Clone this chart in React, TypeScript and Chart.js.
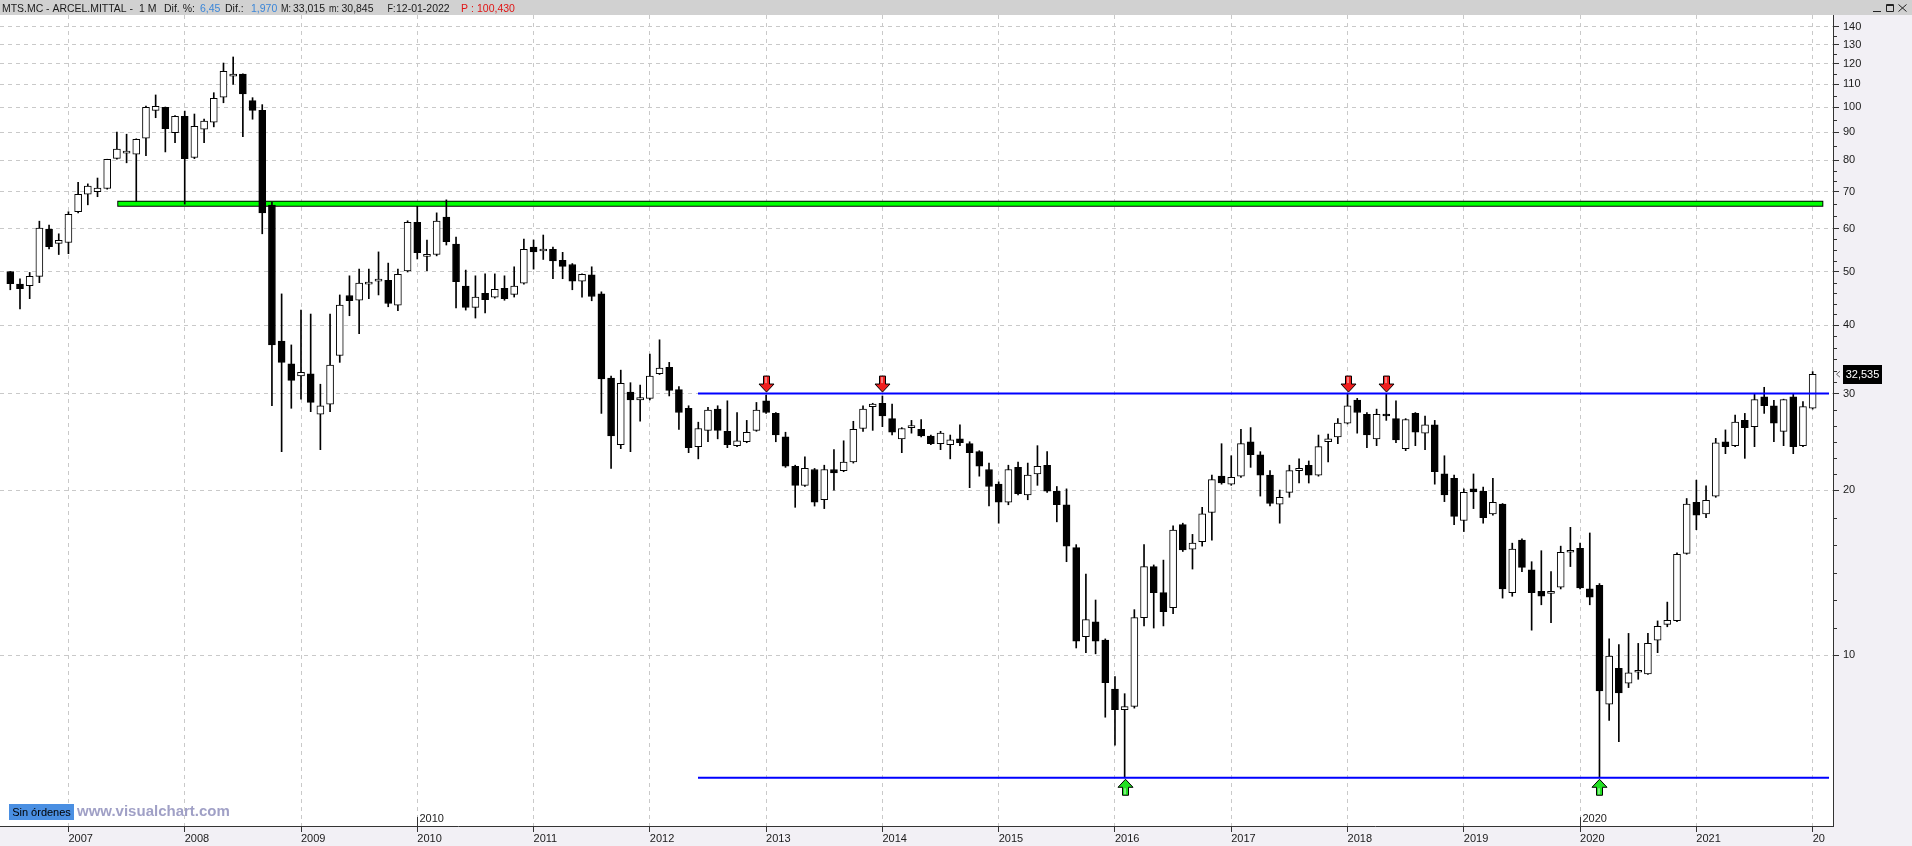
import React, { useEffect, useRef } from 'react';
import { Chart, registerables } from 'chart.js';

Chart.register(...registerables);

const FONT = '"Liberation Sans", Arial, sans-serif';
const PANEL = '#f2f0f5';

// Monthly candles: index 0 = July 2006 ... index 186 = January 2022
const opens = [
  50.1, 47.5, 47.2, 49.1, 59.9, 56.4, 56.6, 64.4, 69.3, 70.1,
  71.0, 80.6, 82.4, 82.0, 87.7, 98.6, 99.9, 89.8, 96.2, 80.9,
  91.1, 93.8, 104.2, 113.8, 114.9, 102.7, 98.6, 66.2, 37.4, 34.0,
  32.3, 32.6, 27.5, 28.7, 35.2, 45.3, 44.4, 47.5, 48.1, 48.3,
  43.5, 50.2, 61.6, 53.4, 53.8, 63.0, 56.2, 47.1, 43.1, 45.7,
  45.0, 46.7, 45.5, 47.7, 55.5, 54.6, 55.0, 52.5, 51.6, 48.1,
  49.4, 45.6, 32.0, 24.2, 30.2, 29.2, 29.4, 32.6, 33.5, 30.5,
  28.2, 24.0, 25.7, 28.1, 25.6, 24.1, 24.5, 25.7, 29.1, 27.6,
  25.0, 22.1, 20.4, 21.8, 19.2, 21.8, 21.7, 22.5, 25.9, 28.4,
  28.8, 27.0, 24.8, 26.0, 25.8, 25.1, 24.3, 24.2, 24.8, 24.3,
  23.5, 21.8, 20.5, 19.0, 22.0, 19.6, 21.4, 22.2, 19.9, 18.8,
  15.7, 10.8, 11.5, 10.65, 8.67, 7.95, 8.06, 11.7, 14.5, 13.0,
  12.2, 17.3, 15.6, 16.1, 18.2, 21.2, 20.5, 21.2, 24.5, 23.2,
  21.3, 18.85, 19.8, 21.7, 22.2, 21.3, 24.5, 25.0, 26.5, 29.2,
  27.5, 24.8, 27.5, 27.0, 23.8, 27.6, 25.4, 26.3, 21.4, 21.0,
  17.6, 20.1, 19.9, 18.1, 18.85, 13.0, 16.2, 14.3, 13.07, 12.95,
  13.3, 15.4, 15.65, 13.2, 13.4, 8.13, 9.46, 8.88, 9.3, 9.24,
  10.64, 11.37, 11.55, 15.33, 19.0, 18.1, 19.5, 24.5, 24.1, 26.8,
  26.1, 29.6, 28.5, 25.6, 29.6, 24.1, 28.2,
];
const highs = [
  50.1, 48.6, 49.9, 61.9, 60.9, 58.7, 64.4, 72.9, 72.4, 74.2,
  80.3, 90.0, 89.2, 87.5, 100.4, 105.2, 100.0, 96.5, 98.3, 97.1,
  95.1, 106.2, 120.3, 123.4, 115.0, 104.0, 101.0, 67.0, 45.6, 36.8,
  42.6, 41.9, 31.2, 41.9, 45.4, 49.2, 50.6, 50.6, 54.4, 51.9,
  50.6, 62.0, 65.9, 57.2, 64.1, 67.7, 57.9, 50.4, 49.2, 49.6,
  49.6, 49.2, 51.1, 57.4, 57.2, 58.4, 55.5, 54.3, 51.8, 49.6,
  51.1, 46.0, 32.3, 33.1, 31.4, 31.1, 35.4, 37.6, 34.2, 30.9,
  28.5, 26.6, 28.3, 28.5, 29.1, 27.7, 26.8, 28.9, 29.8, 27.7,
  25.5, 22.2, 23.0, 21.9, 22.2, 23.7, 24.6, 26.7, 28.5, 28.8,
  29.7, 28.7, 26.0, 26.8, 26.9, 25.2, 25.6, 25.2, 26.3, 24.5,
  23.6, 22.4, 20.7, 22.2, 22.5, 22.4, 24.1, 23.5, 20.3, 20.1,
  15.9, 14.05, 12.6, 10.7, 9.13, 8.5, 12.1, 15.9, 14.6, 14.9,
  17.2, 17.4, 16.6, 18.6, 21.3, 24.3, 23.1, 25.8, 26.0, 23.5,
  21.7, 20.0, 22.2, 22.8, 22.6, 25.2, 25.3, 27.0, 30.0, 29.4,
  27.7, 28.1, 30.0, 29.1, 27.0, 27.7, 27.3, 26.8, 23.1, 21.3,
  20.1, 21.4, 20.25, 21.0, 18.9, 16.0, 16.3, 14.8, 15.5, 14.2,
  15.8, 17.1, 16.0, 16.7, 13.5, 10.7, 10.45, 10.95, 10.5, 10.95,
  11.54, 12.49, 15.37, 19.3, 20.85, 20.35, 24.85, 25.75, 27.4, 27.6,
  29.9, 30.8, 29.15, 29.3, 29.9, 29.0, 32.9,
];
const lows = [
  46.4, 42.8, 44.7, 47.8, 55.1, 53.8, 54.0, 64.1, 66.3, 68.6,
  70.8, 80.3, 79.1, 67.3, 81.5, 95.6, 82.8, 86.1, 66.5, 80.5,
  86.1, 92.0, 101.8, 110.0, 88.3, 95.0, 58.7, 28.5, 23.5, 28.2,
  29.3, 27.8, 23.7, 27.8, 34.2, 41.6, 38.6, 44.7, 45.4, 43.2,
  42.5, 50.0, 52.8, 50.3, 53.5, 56.0, 43.0, 42.6, 41.2, 42.1,
  44.8, 44.4, 45.0, 47.5, 50.6, 52.7, 48.6, 48.6, 46.4, 45.0,
  44.3, 27.6, 21.9, 23.8, 23.5, 26.7, 29.2, 32.5, 29.7, 25.8,
  23.4, 22.8, 24.5, 24.8, 23.9, 24.0, 24.4, 25.6, 27.6, 24.5,
  22.0, 18.6, 20.3, 18.7, 18.5, 20.0, 21.6, 22.4, 25.6, 25.7,
  26.1, 25.2, 23.4, 25.4, 25.0, 24.2, 23.7, 22.8, 24.1, 20.2,
  21.2, 18.7, 17.4, 18.8, 19.6, 19.2, 20.4, 19.8, 17.5, 14.8,
  10.3, 10.1, 10.05, 7.7, 6.85, 5.97, 8.0, 11.3, 11.2, 11.3,
  11.9, 15.45, 14.35, 15.8, 16.2, 20.5, 20.4, 21.1, 22.0, 19.5,
  18.7, 17.4, 19.4, 20.6, 20.6, 21.2, 22.5, 24.3, 26.4, 25.4,
  23.9, 24.1, 26.8, 24.4, 23.6, 24.1, 23.7, 20.5, 19.05, 17.3,
  16.8, 18.5, 17.4, 18.0, 12.7, 12.8, 14.2, 11.1, 12.35, 11.45,
  13.2, 14.5, 13.2, 12.35, 5.97, 7.6, 6.95, 8.72, 9.03, 9.22,
  10.1, 11.26, 11.5, 15.27, 16.93, 17.8, 19.4, 23.3, 24.0, 22.85,
  24.0, 27.6, 24.5, 24.1, 23.3, 24.0, 28.1,
];
const closes = [
  47.6, 46.6, 49.1, 60.1, 55.6, 57.1, 63.7, 69.3, 71.7, 71.1,
  80.3, 83.8, 82.7, 87.3, 99.9, 100.3, 91.3, 96.2, 80.5, 92.2,
  94.3, 103.7, 116.2, 114.9, 105.7, 98.6, 64.1, 36.8, 34.2, 31.7,
  32.8, 28.9, 28.5, 33.8, 43.5, 44.3, 47.7, 47.7, 48.5, 43.8,
  49.5, 61.6, 54.2, 53.8, 61.9, 56.8, 48.0, 43.1, 45.0, 44.5,
  46.5, 44.7, 47.1, 55.0, 54.4, 54.8, 52.4, 51.2, 48.1, 49.5,
  45.1, 31.9, 25.1, 31.3, 29.2, 29.5, 32.3, 33.4, 30.4, 27.7,
  23.9, 25.9, 28.0, 25.7, 24.2, 24.6, 25.5, 28.0, 27.7, 25.2,
  22.1, 20.4, 21.9, 19.0, 21.8, 21.5, 22.5, 25.8, 28.1, 28.7,
  27.3, 25.5, 25.9, 26.1, 25.1, 24.3, 25.4, 24.7, 24.4, 23.4,
  22.1, 20.3, 19.0, 21.8, 19.7, 21.3, 22.1, 19.9, 18.8, 15.8,
  10.6, 11.6, 10.6, 8.9, 7.95, 8.05, 11.7, 14.5, 13.0, 12.0,
  16.9, 15.55, 16.0, 18.1, 20.9, 20.6, 21.1, 24.3, 23.2, 21.3,
  18.9, 19.4, 21.7, 21.9, 21.3, 24.0, 24.8, 26.5, 28.5, 27.7,
  25.2, 27.5, 27.3, 24.7, 26.9, 25.5, 26.3, 21.6, 19.6, 17.9,
  19.8, 19.85, 17.8, 19.0, 13.2, 15.6, 14.45, 13.0, 12.8, 13.07,
  15.4, 15.5, 13.25, 12.75, 8.6, 9.96, 8.53, 9.28, 9.35, 10.5,
  11.28, 11.57, 15.27, 18.85, 18.0, 19.15, 24.4, 24.0, 26.6, 26.0,
  29.25, 28.5, 26.5, 29.25, 24.0, 28.4, 32.535,
];

// x axis: January of each year (candle index)
const yearTickIndex = [6, 18, 30, 42, 54, 66, 78, 90, 102, 114, 126, 138, 150, 162, 174, 186];
const yearTickLabels = ['2007', '2008', '2009', '2010', '2011', '2012', '2013', '2014', '2015', '2016', '2017', '2018', '2019', '2020', '2021', '2022'];
const periodMarkerIndex = [42, 162];
const periodMarkerLabels = ['2010', '2020'];

// y axis
const priceTickValues = [10, 20, 30, 40, 50, 60, 70, 80, 90, 100, 110, 120, 130, 140];
const minorTickDivisions = [6, 6, 6, 5, 4, 3, 3, 2, 2, 2, 2, 2, 2];

// drawn studies
const greenLevel = 66.6;
const greenFrom = 11.04;
const greenTo = 187.1;
const resistanceLevel = 30.0;
const supportLevel = 5.97;
const channelFrom = 70.97;
const channelTo = 187.69;
const sellSignalIndex = [78, 90, 138, 142];
const buySignalIndex = [115, 164];
const lastPrice = 32.535;
const lastPriceLabel = '32,535';

const headerParts = [
  { text: 'MTS.MC - ARCEL.MITTAL -', x: 2, w: 131, color: '#1a1a1a' },
  { text: '1 M', x: 139, w: 20, color: '#1a1a1a' },
  { text: 'Dif. %:', x: 164, w: 33, color: '#1a1a1a' },
  { text: '6,45', x: 200, w: 21, color: '#3b86d8' },
  { text: 'Dif.:', x: 225, w: 23, color: '#1a1a1a' },
  { text: '1,970', x: 251, w: 28, color: '#3b86d8' },
  { text: 'M:', x: 281, w: 10, color: '#1a1a1a' },
  { text: '33,015', x: 293, w: 32, color: '#1a1a1a' },
  { text: 'm:', x: 329, w: 10, color: '#1a1a1a' },
  { text: '30,845', x: 341.5, w: 32, color: '#1a1a1a' },
  { text: 'F:', x: 387.5, w: 8, color: '#1a1a1a' },
  { text: '12-01-2022', x: 396, w: 62, color: '#1a1a1a' },
  { text: 'P :', x: 461, w: 15, color: '#e01515' },
  { text: '100,430', x: 477, w: 40, color: '#e01515' },
];

function drawArrow(ctx: CanvasRenderingContext2D, cx: number, tipY: number, dir: number, fill: string) {
  const s = dir; // 1 = pointing down, -1 = pointing up
  ctx.beginPath();
  ctx.moveTo(cx, tipY);
  ctx.lineTo(cx - 7.5, tipY - s * 8);
  ctx.lineTo(cx - 3, tipY - s * 8);
  ctx.lineTo(cx - 3, tipY - s * 16);
  ctx.lineTo(cx + 3, tipY - s * 16);
  ctx.lineTo(cx + 3, tipY - s * 8);
  ctx.lineTo(cx + 7.5, tipY - s * 8);
  ctx.closePath();
  ctx.fillStyle = fill;
  ctx.fill();
  ctx.strokeStyle = '#000';
  ctx.lineWidth = 1;
  ctx.stroke();
  ctx.strokeStyle = 'rgba(255,255,255,0.85)';
  ctx.beginPath();
  ctx.moveTo(cx - 0.5, tipY - s * 15);
  ctx.lineTo(cx - 0.5, tipY - s * 9);
  ctx.stroke();
}

const decorPlugin = {
  id: 'decor',
  beforeDraw(chart: any) {
    const { ctx, width, height, chartArea: ca } = chart;
    ctx.save();
    ctx.fillStyle = '#ffffff';
    ctx.fillRect(0, 0, width, height);
    ctx.fillStyle = PANEL;
    ctx.fillRect(ca.right, 0, width - ca.right, height);
    ctx.fillRect(0, ca.bottom, width, height - ca.bottom);
    ctx.restore();
  },
  afterDraw(chart: any) {
    const { ctx, width, height, chartArea: ca, scales } = chart;
    const xs = scales.x;
    const ys = scales.y;
    ctx.save();

    // minor ticks on price axis
    ctx.strokeStyle = '#333';
    ctx.lineWidth = 1;
    ctx.beginPath();
    for (let k = 0; k < priceTickValues.length - 1; k++) {
      const p0 = ys.getPixelForValue(priceTickValues[k]);
      const p1 = ys.getPixelForValue(priceTickValues[k + 1]);
      const n = minorTickDivisions[k];
      for (let j = 1; j < n; j++) {
        const yy = Math.round(p0 + ((p1 - p0) * j) / n) + 0.5;
        ctx.moveTo(ca.right, yy);
        ctx.lineTo(ca.right + 4, yy);
      }
    }
    ctx.stroke();

    // clip the last year label under the price panel
    ctx.fillStyle = PANEL;
    ctx.fillRect(ca.right - 8, ca.bottom + 7, width - ca.right + 8, height - ca.bottom - 7);

    // period markers
    ctx.font = `11px ${FONT}`;
    ctx.fillStyle = '#1a1a1a';
    ctx.textBaseline = 'alphabetic';
    ctx.textAlign = 'left';
    periodMarkerIndex.forEach((idx, k) => {
      const px = Math.round(xs.getPixelForValue(idx)) + 0.5;
      ctx.beginPath();
      ctx.moveTo(px, ca.bottom - 9);
      ctx.lineTo(px, ca.bottom);
      ctx.strokeStyle = '#333';
      ctx.stroke();
      ctx.fillText(periodMarkerLabels[k], px + 2, ca.bottom - 4);
    });

    // signal arrows
    const yr = ys.getPixelForValue(resistanceLevel);
    sellSignalIndex.forEach((idx) => drawArrow(ctx, Math.round(xs.getPixelForValue(idx)) + 0.5, yr - 1.5, 1, '#f01e1e'));
    const ysup = ys.getPixelForValue(supportLevel);
    buySignalIndex.forEach((idx) => drawArrow(ctx, Math.round(xs.getPixelForValue(idx)) + 0.5, ysup + 1.5, -1, '#22e022'));

    // last price label
    const yp = ys.getPixelForValue(lastPrice);
    ctx.fillStyle = '#000';
    ctx.fillRect(ca.right + 10, Math.round(yp) - 9, 39, 19);
    ctx.fillStyle = '#fff';
    ctx.font = `11px ${FONT}`;
    ctx.textAlign = 'center';
    ctx.textBaseline = 'middle';
    ctx.fillText(lastPriceLabel, ca.right + 29.5, Math.round(yp) + 1);
    ctx.strokeStyle = '#666';
    ctx.beginPath();
    ctx.moveTo(ca.right + 7, yp - 3);
    ctx.lineTo(ca.right + 3.5, yp);
    ctx.lineTo(ca.right + 7, yp + 3);
    ctx.stroke();

    // header bar
    ctx.fillStyle = '#d1d1d1';
    ctx.fillRect(0, 0, width, 15);
    ctx.textAlign = 'left';
    ctx.textBaseline = 'alphabetic';
    ctx.font = `10.5px ${FONT}`;
    headerParts.forEach((p) => {
      ctx.fillStyle = p.color;
      ctx.fillText(p.text, p.x, 12, p.w);
    });
    // window buttons
    ctx.strokeStyle = '#222';
    ctx.lineWidth = 1;
    ctx.beginPath();
    ctx.moveTo(1873, 11.5);
    ctx.lineTo(1881, 11.5);
    ctx.rect(1886.5, 4.5, 7, 7);
    ctx.moveTo(1886.5, 5.5);
    ctx.lineTo(1893.5, 5.5);
    ctx.moveTo(1898.5, 4.5);
    ctx.lineTo(1906.5, 11.5);
    ctx.moveTo(1906.5, 4.5);
    ctx.lineTo(1898.5, 11.5);
    ctx.stroke();

    // bottom-left status box and watermark
    ctx.fillStyle = '#4a8fe2';
    ctx.fillRect(9, 804, 65, 16);
    ctx.fillStyle = '#000';
    ctx.font = `11px ${FONT}`;
    ctx.textAlign = 'center';
    ctx.fillText('Sin órdenes', 41.5, 816, 63);
    ctx.textAlign = 'left';
    ctx.fillStyle = '#a0a0c6';
    ctx.font = `bold 15px ${FONT}`;
    ctx.fillText('www.visualchart.com', 77, 816, 168);

    ctx.restore();
  },
};

export default function App() {
  const canvasRef = useRef<HTMLCanvasElement | null>(null);

  useEffect(() => {
    const canvas = canvasRef.current;
    if (!canvas) return;
    const idx = closes.map((_, i) => i);
    const wickData = idx.map((i) => ({ x: i, y: [lows[i], highs[i]] }));
    const bodyData = idx.map((i) => ({ x: i, y: [Math.min(opens[i], closes[i]), Math.max(opens[i], closes[i])] }));
    const bodyColors = idx.map((i) => (closes[i] >= opens[i] ? '#ffffff' : '#000000'));

    const chart = new Chart(canvas, {
      type: 'bar',
      data: {
        datasets: [
          {
            type: 'line',
            label: 'support',
            data: [
              { x: channelFrom, y: supportLevel },
              { x: channelTo, y: supportLevel },
            ],
            borderColor: '#0000ff',
            borderWidth: 2,
            pointRadius: 0,
            order: 1,
          } as any,
          {
            type: 'line',
            label: 'resistance',
            data: [
              { x: channelFrom, y: resistanceLevel },
              { x: channelTo, y: resistanceLevel },
            ],
            borderColor: '#0000ff',
            borderWidth: 2,
            pointRadius: 0,
            order: 1,
          } as any,
          {
            type: 'bar',
            label: 'body',
            data: bodyData,
            backgroundColor: bodyColors,
            borderColor: '#000000',
            borderWidth: 1,
            borderSkipped: false,
            barThickness: 7,
            minBarLength: 2,
            grouped: false,
            order: 2,
          } as any,
          {
            type: 'bar',
            label: 'wick',
            data: wickData,
            backgroundColor: '#000000',
            borderWidth: 0,
            barThickness: 1,
            minBarLength: 1,
            grouped: false,
            order: 3,
          } as any,
          {
            type: 'line',
            label: 'green fill',
            data: [
              { x: greenFrom + 0.1, y: greenLevel },
              { x: greenTo - 0.1, y: greenLevel },
            ],
            borderColor: '#00ff00',
            borderWidth: 4,
            pointRadius: 0,
            order: 4,
          } as any,
          {
            type: 'line',
            label: 'green edge',
            data: [
              { x: greenFrom, y: greenLevel },
              { x: greenTo, y: greenLevel },
            ],
            borderColor: '#000000',
            borderWidth: 6,
            pointRadius: 0,
            order: 5,
          } as any,
        ],
      },
      options: {
        responsive: false,
        animation: false,
        devicePixelRatio: 1,
        events: [],
        layout: { padding: { top: 15, left: 0, right: 0, bottom: 0 } },
        plugins: { legend: { display: false }, tooltip: { enabled: false } },
        scales: {
          x: {
            type: 'linear',
            offset: false,
            min: -1.063,
            max: 188.1,
            afterBuildTicks: (s: any) => {
              s.ticks = yearTickIndex.map((v) => ({ value: v }));
            },
            afterFit: (s: any) => {
              s.height = 20;
            },
            ticks: {
              autoSkip: false,
              maxRotation: 0,
              minRotation: 0,
              align: 'start',
              padding: 0,
              color: '#1a1a1a',
              font: { family: FONT, size: 11 },
              callback: (v: any) => {
                const k = yearTickIndex.indexOf(Number(v));
                return k >= 0 ? yearTickLabels[k] : '';
              },
            },
            grid: { offset: false, color: '#c9c9c9', lineWidth: 1, tickLength: 6, tickColor: '#333333', tickBorderDash: [] },
            border: { display: true, color: '#333333', width: 1, dash: [4, 4] },
          } as any,
          y: {
            type: 'logarithmic',
            position: 'right',
            min: 4.875,
            max: 147.2,
            afterBuildTicks: (s: any) => {
              s.ticks = priceTickValues.map((v) => ({ value: v }));
            },
            afterFit: (s: any) => {
              s.width = 79;
            },
            ticks: {
              autoSkip: false,
              padding: 4,
              color: '#1a1a1a',
              font: { family: FONT, size: 11 },
              callback: (v: any) => (priceTickValues.includes(Number(v)) ? String(v) : ''),
            },
            grid: { color: '#c9c9c9', lineWidth: 1, tickLength: 6, tickColor: '#333333', tickBorderDash: [] },
            border: { display: true, color: '#333333', width: 1, dash: [4, 4] },
          } as any,
        },
      },
      plugins: [decorPlugin],
    } as any);

    return () => chart.destroy();
  }, []);

  return (
    <div style={{ position: 'fixed', left: 0, top: 0, width: 1912, height: 846, background: '#fff' }}>
      <canvas ref={canvasRef} width={1912} height={846} style={{ display: 'block', width: 1912, height: 846 }} />
    </div>
  );
}
